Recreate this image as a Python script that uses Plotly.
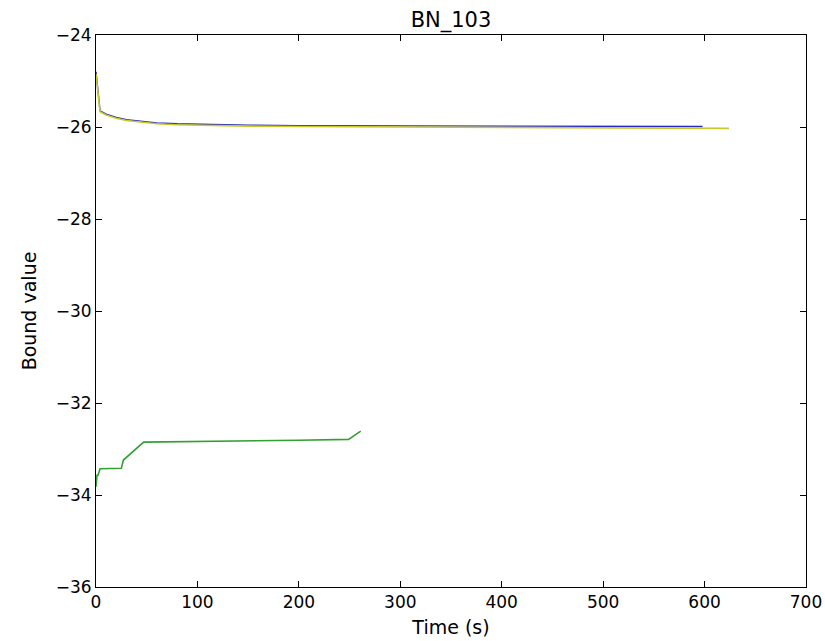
import plotly.graph_objects as go

# Series 1 (blue)
blue_t = [0, 4, 10, 20, 30, 45, 60, 80, 100, 150, 200, 300, 400, 500, 598]
blue_v = [-24.8, -25.65, -25.72, -25.79, -25.84, -25.88, -25.91, -25.93, -25.94, -25.96, -25.97, -25.975, -25.98, -25.985, -25.99]

# Series 2 (yellow)
yellow_t = [0, 4, 10, 20, 30, 45, 60, 80, 100, 150, 200, 300, 400, 500, 600, 624]
yellow_v = [-24.85, -25.67, -25.74, -25.81, -25.86, -25.9, -25.93, -25.95, -25.96, -25.98, -25.99, -26.0, -26.01, -26.02, -26.03, -26.03]

# Series 3 (green)
green_t = [0, 1, 2, 4, 25, 27, 47, 100, 150, 200, 249, 261]
green_v = [-33.82, -33.57, -33.57, -33.43, -33.42, -33.24, -32.85, -32.84, -32.83, -32.81, -32.79, -32.61]

x_ticks = [0, 100, 200, 300, 400, 500, 600, 700]
y_ticks = [-36, -34, -32, -30, -28, -26, -24]

fig = go.Figure()
fig.add_trace(go.Scatter(x=blue_t, y=blue_v, mode="lines",
                         line=dict(color="rgb(40,40,190)", width=1.4), showlegend=False))
fig.add_trace(go.Scatter(x=yellow_t, y=yellow_v, mode="lines",
                         line=dict(color="rgb(200,200,40)", width=1.6), showlegend=False))
fig.add_trace(go.Scatter(x=green_t, y=green_v, mode="lines",
                         line=dict(color="rgb(50,160,50)", width=1.6), showlegend=False))

axis_common = dict(showline=True, linecolor="black", linewidth=1, mirror="allticks",
                   ticks="inside", ticklen=6, tickcolor="black", showgrid=False,
                   zeroline=False, tickfont=dict(size=17, color="black"),
                   automargin=False, ticklabeloverflow="allow")

fig.update_layout(
    width=825, height=641,
    margin=dict(l=96, r=19, t=35, b=54),
    paper_bgcolor="white", plot_bgcolor="white",
    font=dict(family="DejaVu Sans", color="black"),
    title=dict(text="BN_103", x=0.5, xanchor="center", xref="paper",
               y=1 - 20 / 641, yanchor="middle", font=dict(size=21)),
    xaxis=dict(range=[0, 700], tickvals=x_ticks, ticktext=[str(v) for v in x_ticks],
               title=dict(text="Time (s)", font=dict(size=19), standoff=9), **axis_common),
    yaxis=dict(range=[-36, -24], tickvals=y_ticks, ticktext=["\u2212" + str(abs(v)) for v in y_ticks],
               title=dict(text="Bound value", font=dict(size=19), standoff=14), **axis_common),
)

fig.write_html("out.html")
